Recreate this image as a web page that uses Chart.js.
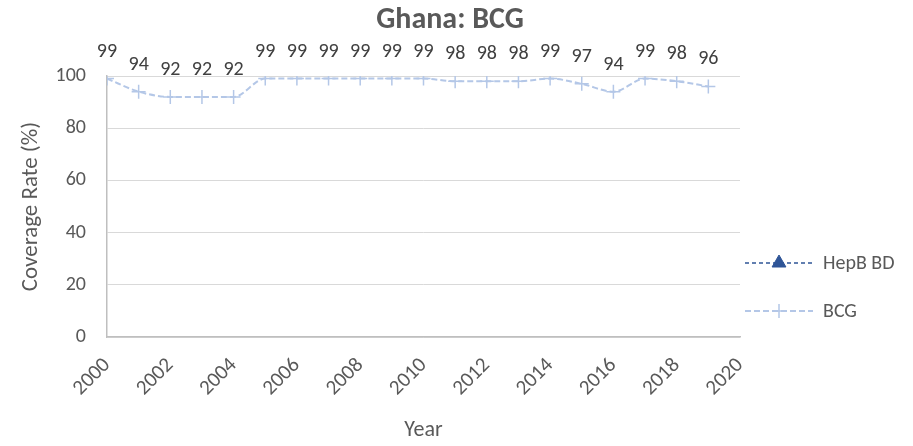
<!DOCTYPE html>
<html>
<head>
<meta charset="utf-8">
<script src="https://cdn.jsdelivr.net/npm/chart.js@4"></script>
<style>
  html, body { margin: 0; padding: 0; background: #fff; }
  #wrap { width: 913px; height: 446px; }
</style>
</head>
<body>
<div id="wrap"><canvas id="lineChart"></canvas></div>
<script>
const years = [2000, 2001, 2002, 2003, 2004, 2005, 2006, 2007, 2008, 2009,
               2010, 2011, 2012, 2013, 2014, 2015, 2016, 2017, 2018, 2019];
const bcgRates = [99, 94, 92, 92, 92, 99, 99, 99, 99, 99,
                  99, 98, 98, 98, 99, 97, 94, 99, 98, 96];
const hepbRates = [];  // no HepB BD figures reported
const yTicks = [0, 20, 40, 60, 80, 100];

const FONT = 'Carlito, Calibri, Lato, sans-serif';
const GREY = '#595959';

// value labels above every point of the BCG line
const valueLabels = {
  id: 'valueLabels',
  afterDatasetsDraw(chart) {
    const ctx = chart.ctx;
    const meta = chart.getDatasetMeta(1);
    ctx.save();
    ctx.font = '20px ' + FONT;
    ctx.fillStyle = '#404040';
    ctx.textAlign = 'center';
    ctx.textBaseline = 'alphabetic';
    meta.data.forEach((pt, i) => {
      ctx.fillText(bcgRates[i], pt.x, pt.y - 22);
    });
    ctx.restore();
  }
};

// legend column on the right; it is a layout box so the title stays
// centred on the whole canvas
const sideLegend = {
  id: 'sideLegend',
  beforeInit(chart) {
    chart.$sideBox = {
      position: 'right',
      weight: 1000,
      fullSize: false,
      options: {},
      isHorizontal() { return false; },
      update(maxWidth, maxHeight) { this.width = 160; this.height = maxHeight; },
      draw() {}
    };
    Chart.layouts.addBox(chart, chart.$sideBox);
  },
  afterDraw(chart) {
    const ctx = chart.ctx;
    const x0 = chart.chartArea.right + 5;
    const rows = [263, 311];
    chart.data.datasets.forEach((ds, i) => {
      const y = rows[i];
      ctx.save();
      ctx.strokeStyle = ds.borderColor;
      ctx.fillStyle = ds.borderColor;
      ctx.lineWidth = ds.borderWidth;
      ctx.setLineDash(ds.borderDash);
      ctx.beginPath();
      ctx.moveTo(x0, y);
      ctx.lineTo(x0 + 68, y);
      ctx.stroke();
      ctx.setLineDash([]);
      ctx.lineWidth = ds.pointBorderWidth;
      Chart.helpers.drawPoint(ctx, {
        pointStyle: ds.pointStyle,
        radius: ds.pointRadius,
        borderWidth: ds.pointBorderWidth,
        rotation: 0
      }, x0 + 34, y);
      ctx.font = '20px ' + FONT;
      ctx.fillStyle = GREY;
      ctx.textAlign = 'left';
      ctx.textBaseline = 'middle';
      ctx.fillText(ds.label, x0 + 78, y + 1);
      ctx.restore();
    });
  }
};

const ctx = document.getElementById('lineChart').getContext('2d');
new Chart(ctx, {
  type: 'line',
  data: {
    datasets: [{
      label: 'HepB BD',
      data: hepbRates.map((v, i) => ({ x: years[i], y: v })),
      borderColor: '#2f5597',
      backgroundColor: '#2f5597',
      borderWidth: 1.5,
      borderDash: [4, 3],
      pointStyle: 'triangle',
      pointRadius: 8,
      pointBorderWidth: 1
    }, {
      label: 'BCG',
      data: bcgRates.map((v, i) => ({ x: years[i], y: v })),
      borderColor: '#b4c7e7',
      backgroundColor: '#b4c7e7',
      borderWidth: 2,
      borderDash: [6, 3],
      pointStyle: 'cross',
      pointRadius: 7,
      pointBorderWidth: 1.5,
      cubicInterpolationMode: 'monotone'
    }]
  },
  options: {
    responsive: true,
    maintainAspectRatio: false,
    animation: false,
    layout: { padding: { left: 0, right: 13, top: 0, bottom: 0 } },
    plugins: {
      legend: { display: false },
      tooltip: { enabled: false },
      title: {
        display: true,
        text: 'Ghana: BCG',
        color: GREY,
        font: { family: FONT, size: 30, weight: 'bold' },
        padding: { top: 2, bottom: 38 }
      }
    },
    scales: {
      x: {
        type: 'linear',
        min: 2000,
        max: 2020,
        // fixed band under the plot; first rotated year may hang over the y labels
        afterFit: axis => { axis.paddingLeft = 0; axis.height = 109; },
        ticks: {
          stepSize: 2,
          minRotation: 45,
          maxRotation: 45,
          padding: 8,
          color: GREY,
          font: { family: FONT, size: 21 },
          callback: v => String(v)
        },
        grid: { display: false },
        border: { color: '#bfbfbf', width: 1.5 },
        title: {
          display: true,
          text: 'Year',
          color: GREY,
          font: { family: FONT, size: 22 },
          padding: { top: 4, bottom: 2 }
        }
      },
      y: {
        min: 0,
        max: 100,
        afterBuildTicks: axis => { axis.ticks = yTicks.map(v => ({ value: v })); },
        afterFit: axis => { axis.width = 107; },
        ticks: {
          color: GREY,
          font: { family: FONT, size: 20 },
          padding: 21
        },
        grid: { color: '#d9d9d9', drawTicks: false },
        border: { color: '#bfbfbf', width: 1.5 },
        title: {
          display: true,
          text: 'Coverage Rate (%)',
          color: GREY,
          font: { family: FONT, size: 23 },
          padding: { top: 17, bottom: 8 }
        }
      }
    }
  },
  plugins: [valueLabels, sideLegend]
});
</script>
</body>
</html>
